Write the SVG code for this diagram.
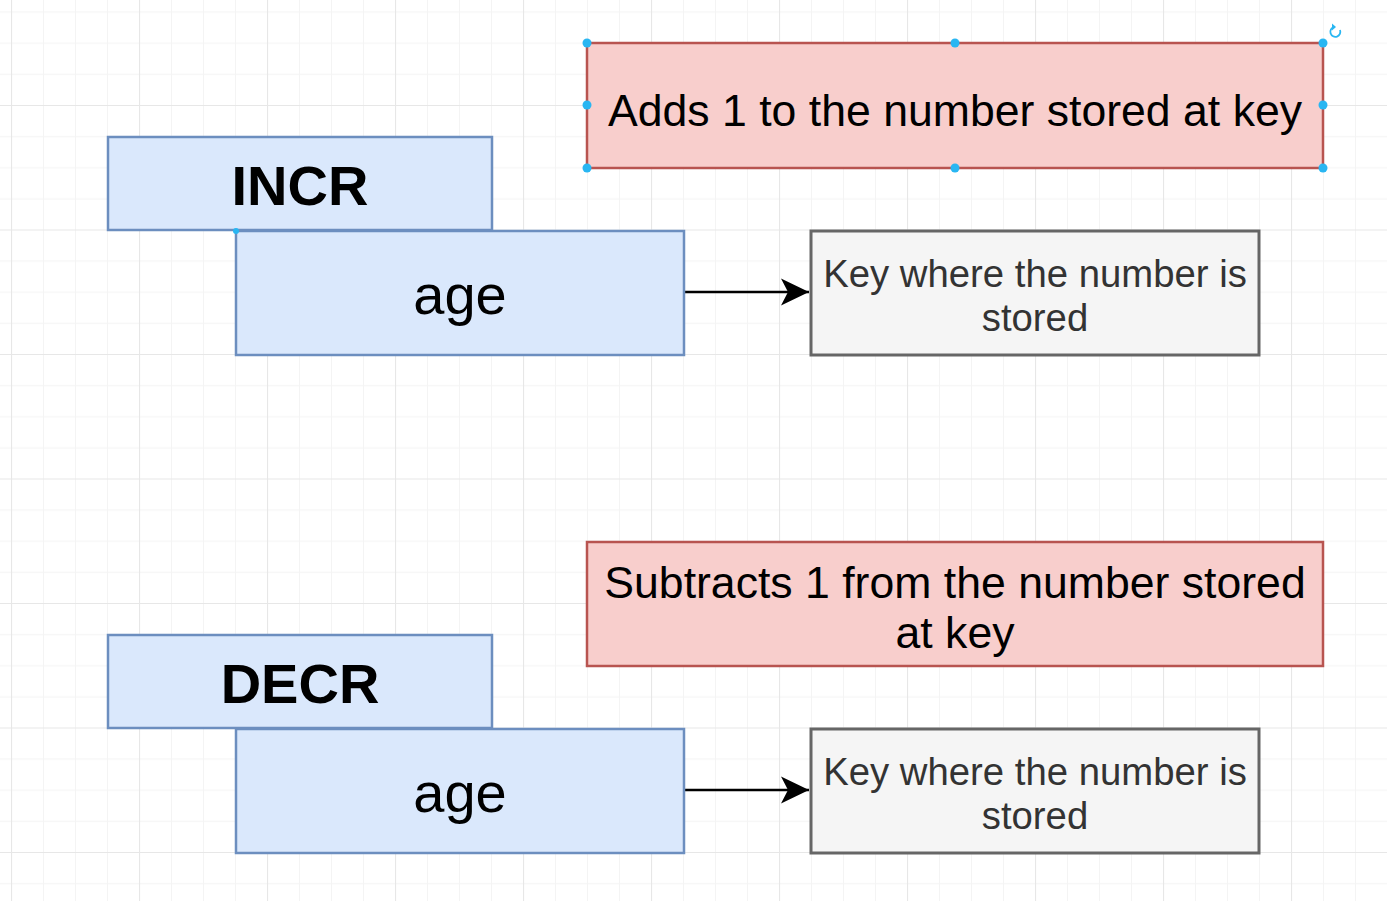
<svg xmlns="http://www.w3.org/2000/svg" width="1387" height="901" viewBox="0 0 1387 901">
<style>
.blue{fill:#dae8fc;stroke:#6c8ebf;stroke-width:2.5}
.red{fill:#f8cecc;stroke:#b85450;stroke-width:2.5}
.gray{fill:#f5f5f5;stroke:#666666;stroke-width:3}
.t{font-family:"Liberation Sans",Arial,Helvetica,sans-serif;text-anchor:middle;fill:#000}
.b{font-weight:bold;font-size:56px}
.age{font-size:56px}
.desc{font-size:44.6px}
.key{font-size:38.3px;fill:#333333}
.conn{stroke:#000;stroke-width:2.5;fill:none}
.h{fill:#29b6f2}
</style>
<defs>
<pattern id="grid" patternUnits="userSpaceOnUse" x="11" y="105" width="128" height="124.5">
<path d="M0.5 0V124.5M32.5 0V124.5M64.5 0V124.5M96.5 0V124.5M0 31.6H128M0 62.75H128M0 93.9H128" stroke="#f4f4f4" stroke-width="1" fill="none"/>
<path d="M0.5 0V124.5M0 0.5H128" stroke="#e7e7e7" stroke-width="1.2" fill="none"/>
</pattern>
<marker id="arr" markerUnits="userSpaceOnUse" markerWidth="32" markerHeight="32" refX="28" refY="16" orient="auto">
<path d="M28 16L0 2.5L7 16L0 29.5Z" fill="#000"/>
</marker>
</defs>
<rect width="1387" height="901" fill="#ffffff"/>
<rect width="1387" height="901" fill="url(#grid)"/>
<g id="connectors">
<path class="conn" d="M684 292H809" marker-end="url(#arr)"/>
<path class="conn" d="M684 790H809" marker-end="url(#arr)"/>
</g>
<g id="incr-desc">
<rect class="red" x="587" y="43" width="736" height="125"/>
<text class="t desc" x="955" y="126">Adds 1 to the number stored at key</text>
</g>
<g id="incr">
<rect class="blue" x="108" y="137" width="384" height="93"/>
<text class="t b" x="300" y="205">INCR</text>
</g>
<g id="incr-age">
<rect class="blue" x="236" y="231" width="448" height="124"/>
<text class="t age" x="460" y="314">age</text>
</g>
<g id="incr-key">
<rect class="gray" x="811" y="231" width="448" height="124"/>
<text class="t key" x="1035" y="287">Key where the number is</text>
<text class="t key" x="1035" y="331">stored</text>
</g>
<g id="decr-desc">
<rect class="red" x="587" y="542" width="736" height="124"/>
<text class="t desc" x="955" y="598">Subtracts 1 from the number stored</text>
<text class="t desc" x="955" y="648">at key</text>
</g>
<g id="decr">
<rect class="blue" x="108" y="635" width="384" height="93"/>
<text class="t b" x="300" y="703">DECR</text>
</g>
<g id="decr-age">
<rect class="blue" x="236" y="729" width="448" height="124"/>
<text class="t age" x="460" y="812">age</text>
</g>
<g id="decr-key">
<rect class="gray" x="811" y="729" width="448" height="124"/>
<text class="t key" x="1035" y="785">Key where the number is</text>
<text class="t key" x="1035" y="829">stored</text>
</g>
<g id="selection">
<circle class="h" cx="587" cy="43" r="4.5"/>
<circle class="h" cx="955" cy="43" r="4.5"/>
<circle class="h" cx="1323" cy="43" r="4.5"/>
<circle class="h" cx="587" cy="105" r="4.5"/>
<circle class="h" cx="1323" cy="105" r="4.5"/>
<circle class="h" cx="587" cy="168" r="4.5"/>
<circle class="h" cx="955" cy="168" r="4.5"/>
<circle class="h" cx="1323" cy="168" r="4.5"/>
<circle class="h" cx="236" cy="231" r="3"/>
<path d="M1340 30A5 5 0 1 1 1334 27" stroke="#29b6f2" stroke-width="1.8" fill="none"/>
<path d="M1332 23.5L1336 27L1332 30.5Z" fill="#29b6f2"/>
</g>
</svg>
